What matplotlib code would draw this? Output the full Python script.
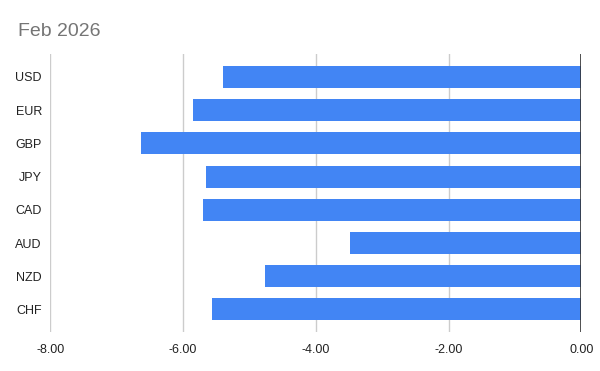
import matplotlib
matplotlib.use("Agg")
import matplotlib.pyplot as plt

currencies = ["USD", "EUR", "GBP", "JPY", "CAD", "AUD", "NZD", "CHF"]
values = [-5.40, -5.85, -6.63, -5.66, -5.70, -3.48, -4.76, -5.57]
x_ticks = [-8, -6, -4, -2, 0]

plt.rcParams["font.family"] = ["Liberation Sans", "DejaVu Sans"]

fig = plt.figure(figsize=(6, 3.71), dpi=100)
ax = fig.add_axes([50.3 / 600, 1 - 331.7 / 371, 531 / 600, 277.7 / 371])

pos = list(range(len(currencies)))
ax.barh(pos, values, height=0.66, color="#4285f4", zorder=3)

ax.set_xlim(-8, 0)
ax.set_ylim(len(currencies) - 0.33, -0.69)
ax.set_xticks(x_ticks)
ax.set_xticklabels([f"{t:.2f}" for t in x_ticks])
ax.set_yticks(pos)
ax.set_yticklabels(currencies)
ax.tick_params(length=0, labelsize=9, colors="#222222")
ax.tick_params(axis="x", pad=9)
ax.tick_params(axis="y", pad=6)

ax.grid(axis="x", color="#cccccc", linewidth=1, zorder=0)
ax.axvline(0, color="#333333", linewidth=1.2, zorder=4)
for s in ax.spines.values():
    s.set_visible(False)

fig.text(18 / 600, 1 - 32 / 371, "Feb 2026", fontsize=14, color="#757575", va="center", ha="left")

fig.savefig("out.png", dpi=100)
